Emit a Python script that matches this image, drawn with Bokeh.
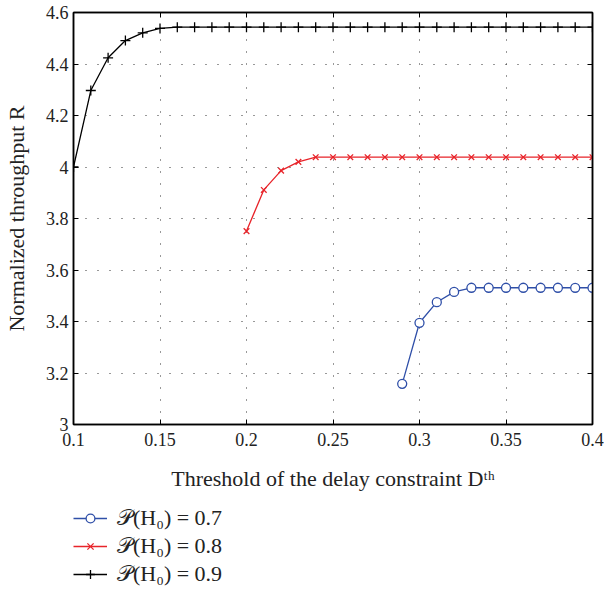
from bokeh.plotting import figure
from bokeh.layouts import column
from bokeh.models import (FixedTicker, LinearAxis, Legend, LegendItem, Range1d, ColumnDataSource)
from bokeh.embed import file_html
from bokeh.resources import INLINE

# Data
x_07 = [0.29, 0.30, 0.31, 0.32, 0.33, 0.34, 0.35, 0.36, 0.37, 0.38, 0.39, 0.40]
y_07 = [3.158, 3.395, 3.475, 3.515, 3.531, 3.531, 3.531, 3.531, 3.531, 3.531, 3.531, 3.531]

x_08 = [0.20, 0.21, 0.22, 0.23, 0.24, 0.25, 0.26, 0.27, 0.28, 0.29, 0.30,
        0.31, 0.32, 0.33, 0.34, 0.35, 0.36, 0.37, 0.38, 0.39, 0.40]
y_08 = [3.751, 3.911, 3.986, 4.020, 4.038, 4.038, 4.038, 4.038, 4.038, 4.038, 4.038,
        4.038, 4.038, 4.038, 4.038, 4.038, 4.038, 4.038, 4.038, 4.038, 4.038]

x_09 = [0.10, 0.11, 0.12, 0.13, 0.14, 0.15, 0.16, 0.17, 0.18, 0.19, 0.20,
        0.21, 0.22, 0.23, 0.24, 0.25, 0.26, 0.27, 0.28, 0.29, 0.30,
        0.31, 0.32, 0.33, 0.34, 0.35, 0.36, 0.37, 0.38, 0.39, 0.40]
y_09 = [4.000, 4.297, 4.424, 4.491, 4.521, 4.538, 4.543, 4.543, 4.543, 4.543, 4.543,
        4.543, 4.543, 4.543, 4.543, 4.543, 4.543, 4.543, 4.543, 4.543, 4.543,
        4.543, 4.543, 4.543, 4.543, 4.543, 4.543, 4.543, 4.543, 4.543, 4.543]

x_ticks = [0.1, 0.15, 0.2, 0.25, 0.3, 0.35, 0.4]
x_tick_labels = ["0.1", "0.15", "0.2", "0.25", "0.3", "0.35", "0.4"]
y_ticks = [3.0, 3.2, 3.4, 3.6, 3.8, 4.0, 4.2, 4.4, 4.6]
y_tick_labels = ["3", "3.2", "3.4", "3.6", "3.8", "4", "4.2", "4.4", "4.6"]

labels = ["𝒫(H₀) = 0.7", "𝒫(H₀) = 0.8", "𝒫(H₀) = 0.9"]

FONT = "Liberation Serif"
BLUE = "#2f4fa8"
RED = "#e8242a"
BLACK = "#000000"
STYLES = [
    dict(color=BLUE, marker="circle", size=9, fill="white"),
    dict(color=RED, marker="x", size=8, fill=None),
    dict(color=BLACK, marker="cross", size=10, fill=None),
]

p = figure(width=604, height=504, output_backend="svg", toolbar_location=None,
           x_range=Range1d(0.1, 0.4), y_range=Range1d(3.0, 4.6),
           min_border_left=72, min_border_top=12, min_border_right=12, min_border_bottom=80)
p.outline_line_color = "black"
p.outline_line_width = 1.5

for ax, ticks, labs in ((p.xaxis[0], x_ticks, x_tick_labels), (p.yaxis[0], y_ticks, y_tick_labels)):
    ax.ticker = FixedTicker(ticks=ticks)
    ax.major_label_overrides = {t: l for t, l in zip(ticks, labs)}
    ax.major_tick_in = 5
    ax.major_tick_out = 0
    ax.minor_tick_line_color = None
    ax.axis_line_width = 1.5
    ax.major_tick_line_width = 1
    ax.major_label_text_font = FONT
    ax.major_label_text_font_size = "18px"
    ax.major_label_text_color = "#222222"
    ax.axis_label_text_font = FONT
    ax.axis_label_text_font_size = "22px"
    ax.axis_label_text_font_style = "normal"
    ax.axis_label_text_color = "#222222"

p.xaxis.axis_label = "Threshold of the delay constraint Dᵗʰ"
p.yaxis.axis_label = "Normalized throughput R"
p.xaxis.major_label_standoff = 8
p.xaxis.axis_label_standoff = 17
p.yaxis.major_label_standoff = 5
p.yaxis.axis_label_standoff = 14

for loc, ticks in (("right", y_ticks), ("above", x_ticks)):
    ax = LinearAxis(ticker=FixedTicker(ticks=ticks), major_label_text_font_size="1px",
                    major_label_text_color=None,
                    major_tick_in=5, major_tick_out=0, minor_tick_line_color=None,
                    major_label_standoff=0, axis_line_width=1.5)
    p.add_layout(ax, loc)

p.grid.grid_line_color = "#333333"
p.grid.grid_line_dash = "1 11"
p.grid.grid_line_width = 1
p.xgrid.ticker = FixedTicker(ticks=x_ticks)
p.ygrid.ticker = FixedTicker(ticks=y_ticks)

for xs, ys, st in ((x_07, y_07, STYLES[0]), (x_08, y_08, STYLES[1]), (x_09, y_09, STYLES[2])):
    p.line(xs, ys, line_color=st["color"], line_width=1.3)
    p.scatter(xs, ys, marker=st["marker"], size=st["size"], line_color=st["color"],
              fill_color=st["fill"], line_width=1.3)

# legend strip below the plot (legend samples only, no visible data)
q = figure(width=604, height=87, output_backend="svg", toolbar_location=None,
           x_range=Range1d(0, 1), y_range=Range1d(0, 1), x_axis_type=None, y_axis_type=None,
           min_border_left=71, min_border_top=1, min_border_right=0, min_border_bottom=0)
q.outline_line_color = None
q.grid.visible = False
items = []
for lab, st in zip(labels, STYLES):
    src = ColumnDataSource(data=dict(x=[float("nan")], y=[float("nan")]))
    lr = q.line("x", "y", source=src, line_color=st["color"], line_width=1.3)
    sr = q.scatter("x", "y", source=src, marker=st["marker"], size=st["size"],
                   line_color=st["color"], fill_color=st["fill"], line_width=1.3)
    items.append(LegendItem(label=lab, renderers=[lr, sr]))

legend = Legend(items=items, location="top_left", orientation="vertical",
                border_line_color=None, background_fill_alpha=0,
                margin=0, padding=2, spacing=2, glyph_width=34, glyph_height=22,
                label_height=22, label_standoff=10, label_text_font=FONT,
                label_text_font_size="22px", label_text_color="#222222")
q.add_layout(legend, "center")

layout = column(p, q, spacing=0)
open("out.html", "w").write(file_html(layout, INLINE))
